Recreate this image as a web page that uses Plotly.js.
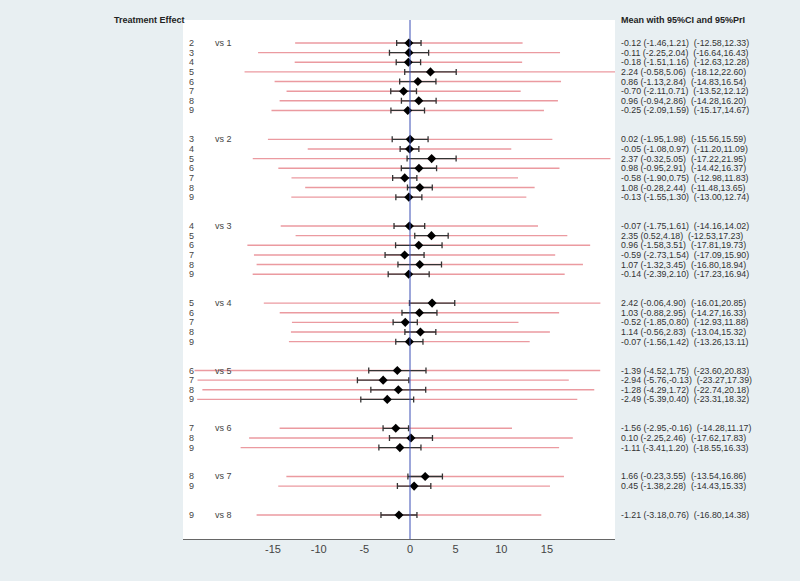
<html><head>
<title>Network meta-analysis forest plot</title>
<script src="https://cdn.plot.ly/plotly-3.0.1.min.js"></script>
<style>
  body { margin: 0; padding: 0; background-color: #e8eff2; }
  #forest { width: 800px; height: 581px; }
</style>
</head>
<body>
<div id="forest"></div>
<script>
// comparisons, grouped by comparator
const comparators = [1, 2, 3, 4, 5, 6, 7, 8];
const treatments = [
  [2, 3, 4, 5, 6, 7, 8, 9],
  [3, 4, 5, 6, 7, 8, 9],
  [4, 5, 6, 7, 8, 9],
  [5, 6, 7, 8, 9],
  [6, 7, 8, 9],
  [7, 8, 9],
  [8, 9],
  [9]
];
const mean = [
  -0.12, -0.11, -0.18, 2.24, 0.86, -0.70, 0.96, -0.25,
  0.02, -0.05, 2.37, 0.98, -0.58, 1.08, -0.13,
  -0.07, 2.35, 0.96, -0.59, 1.07, -0.14,
  2.42, 1.03, -0.52, 1.14, -0.07,
  -1.39, -2.94, -1.28, -2.49,
  -1.56, 0.10, -1.11,
  1.66, 0.45,
  -1.21
];
const ciLow = [
  -1.46, -2.25, -1.51, -0.58, -1.13, -2.11, -0.94, -2.09,
  -1.95, -1.08, -0.32, -0.95, -1.90, -0.28, -1.55,
  -1.75, 0.52, -1.58, -2.73, -1.32, -2.39,
  -0.06, -0.88, -1.85, -0.56, -1.56,
  -4.52, -5.76, -4.29, -5.39,
  -2.95, -2.25, -3.41,
  -0.23, -1.38,
  -3.18
];
const ciHigh = [
  1.21, 2.04, 1.16, 5.06, 2.84, 0.71, 2.86, 1.59,
  1.98, 0.97, 5.05, 2.91, 0.75, 2.44, 1.30,
  1.61, 4.18, 3.51, 1.54, 3.45, 2.10,
  4.90, 2.95, 0.80, 2.83, 1.42,
  1.75, -0.13, 1.72, 0.40,
  -0.16, 2.46, 1.20,
  3.55, 2.28,
  0.76
];
const priLow = [
  -12.58, -16.64, -12.63, -18.12, -14.83, -13.52, -14.28, -15.17,
  -15.56, -11.20, -17.22, -14.42, -12.98, -11.48, -13.00,
  -14.16, -12.53, -17.81, -17.09, -16.80, -17.23,
  -16.01, -14.27, -12.93, -13.04, -13.26,
  -23.60, -23.27, -22.74, -23.31,
  -14.28, -17.62, -18.55,
  -13.54, -14.43,
  -16.80
];
const priHigh = [
  12.33, 16.43, 12.28, 22.60, 16.54, 12.12, 16.20, 14.67,
  15.59, 11.09, 21.95, 16.37, 11.83, 13.65, 12.74,
  14.02, 17.23, 19.73, 15.90, 18.94, 16.94,
  20.85, 16.33, 11.88, 15.32, 13.11,
  20.83, 17.39, 20.18, 18.32,
  11.17, 17.83, 16.33,
  16.86, 15.33,
  14.38
];
const xTicks = [-15, -10, -5, 0, 5, 10, 15];
const xTickText = ['-15', '-10', '-5', '0', '5', '10', '15'];

// row positions: two blank rows between groups
const rowY = [];
const annotations = [];
const font = 'Liberation Sans, Arial, sans-serif';
let k = 0, row = 0;
treatments.forEach((group, g) => {
  group.forEach((t, j) => {
    rowY.push(row);
    annotations.push({
      xref: 'paper', yref: 'y', x: 0.01, y: row, xanchor: 'left',
      text: String(t), showarrow: false, font: { family: font, size: 9, color: '#444' }
    });
    if (j === 0) {
      annotations.push({
        xref: 'paper', yref: 'y', x: 0.069, y: row, xanchor: 'left',
        text: 'vs ' + comparators[g], showarrow: false, font: { family: font, size: 9, color: '#444' }
      });
    }
    const f = v => v.toFixed(2);
    annotations.push({
      xref: 'paper', yref: 'y', x: 1.009, y: row, xanchor: 'left',
      text: f(mean[k]) + ' (' + f(ciLow[k]) + ',' + f(ciHigh[k]) + ')  (' + f(priLow[k]) + ',' + f(priHigh[k]) + ')',
      showarrow: false, font: { family: font, size: 8.8, color: '#333' }
    });
    k++; row++;
  });
  row += 2;
});

annotations.push({
  xref: 'paper', yref: 'paper', x: 0.01, y: 1.0, xanchor: 'right', yanchor: 'middle',
  text: '<b>Treatment Effect</b>', showarrow: false, font: { family: font, size: 9, color: '#222' }
});
annotations.push({
  xref: 'paper', yref: 'paper', x: 1.009, y: 1.0, xanchor: 'left', yanchor: 'middle',
  text: '<b>Mean with 95%CI and 95%PrI</b>', showarrow: false, font: { family: font, size: 9, color: '#222' }
});

const priTrace = {
  x: mean, y: rowY, type: 'scatter', mode: 'markers',
  marker: { opacity: 0, size: 1 },
  error_x: {
    type: 'data', symmetric: false,
    array: mean.map((m, i) => priHigh[i] - m),
    arrayminus: mean.map((m, i) => m - priLow[i]),
    color: '#eb9aa0', thickness: 1.4, width: 0
  },
  hoverinfo: 'skip', showlegend: false
};

const ciTrace = {
  x: mean, y: rowY, type: 'scatter', mode: 'markers',
  marker: { symbol: 'diamond', size: 7, color: '#000' },
  error_x: {
    type: 'data', symmetric: false,
    array: mean.map((m, i) => ciHigh[i] - m),
    arrayminus: mean.map((m, i) => m - ciLow[i]),
    color: '#333', thickness: 1.3, width: 3
  },
  showlegend: false
};

const layout = {
  width: 800, height: 581,
  margin: { l: 183, r: 185, t: 20, b: 42 },
  paper_bgcolor: '#e8eff2',
  plot_bgcolor: '#ffffff',
  xaxis: {
    range: [-24.86, 22.45], tickvals: xTicks, ticktext: xTickText, ticks: '',
    showgrid: false, zeroline: false,
    showline: true, linecolor: '#666', linewidth: 1,
    tickfont: { family: font, size: 11, color: '#444' }
  },
  yaxis: {
    range: [51.49, -2.39], showticklabels: false, showgrid: false, zeroline: false, ticks: ''
  },
  shapes: [{
    type: 'line', xref: 'x', yref: 'paper', x0: 0, x1: 0, y0: 0, y1: 1,
    line: { color: '#3a4fb5', width: 1 }
  }],
  annotations: annotations
};

Plotly.newPlot('forest', [priTrace, ciTrace], layout, { displayModeBar: false });
</script>
</body></html>
